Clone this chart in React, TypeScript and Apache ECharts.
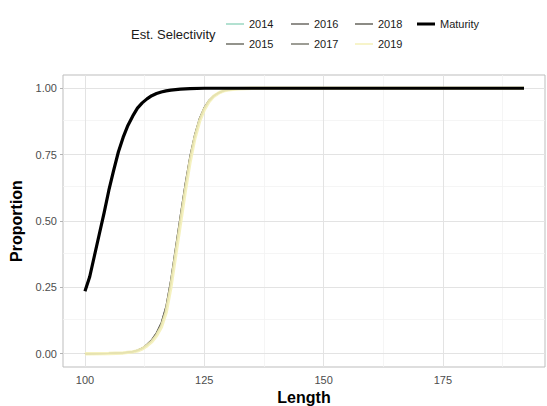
import React, { useEffect, useRef } from "react";
import * as echarts from "echarts";

// ---- data ----
const maturityLength = [100, 101, 102, 103, 104, 105, 106, 107, 108, 109, 110, 111, 112, 113, 114, 115, 116, 117, 118, 119, 120, 122, 125, 140, 192];
const maturityProp = [0.235, 0.29, 0.37, 0.45, 0.53, 0.615, 0.69, 0.76, 0.815, 0.86, 0.895, 0.925, 0.945, 0.96, 0.972, 0.98, 0.986, 0.99, 0.993, 0.995, 0.997, 0.999, 1.0, 1.0, 1.0];

const selLength = [100, 105, 108, 110, 111, 112, 113, 114, 115, 116, 117, 118, 119, 120, 121, 122, 123, 124, 125, 126, 127, 128, 129, 130, 132, 135, 140, 192];
const sel2014 = [0, 0.001, 0.003, 0.007, 0.012, 0.019, 0.032, 0.048, 0.072, 0.106, 0.165, 0.262, 0.385, 0.505, 0.625, 0.73, 0.815, 0.88, 0.922, 0.951, 0.97, 0.982, 0.99, 0.994, 0.998, 1, 1, 1];
const sel2015 = [0, 0.001, 0.003, 0.008, 0.013, 0.02, 0.034, 0.05, 0.076, 0.112, 0.172, 0.27, 0.392, 0.512, 0.632, 0.737, 0.82, 0.883, 0.925, 0.953, 0.971, 0.983, 0.99, 0.994, 0.998, 1, 1, 1];
const sel2016 = [0, 0.001, 0.003, 0.008, 0.013, 0.021, 0.035, 0.052, 0.079, 0.116, 0.178, 0.278, 0.4, 0.52, 0.638, 0.742, 0.824, 0.886, 0.927, 0.954, 0.972, 0.983, 0.99, 0.995, 0.998, 1, 1, 1];
const sel2017 = [0, 0.001, 0.003, 0.007, 0.012, 0.02, 0.033, 0.05, 0.075, 0.11, 0.17, 0.268, 0.39, 0.51, 0.63, 0.735, 0.818, 0.882, 0.924, 0.952, 0.971, 0.982, 0.99, 0.994, 0.998, 1, 1, 1];
const sel2018 = [0, 0.001, 0.003, 0.008, 0.014, 0.021, 0.036, 0.053, 0.08, 0.118, 0.18, 0.28, 0.402, 0.522, 0.64, 0.744, 0.826, 0.887, 0.928, 0.955, 0.972, 0.983, 0.991, 0.995, 0.998, 1, 1, 1];
const sel2019 = [0, 0.001, 0.003, 0.007, 0.011, 0.018, 0.03, 0.045, 0.068, 0.1, 0.155, 0.25, 0.37, 0.49, 0.61, 0.72, 0.81, 0.875, 0.92, 0.95, 0.97, 0.982, 0.99, 0.994, 0.998, 1, 1, 1];

const years = ["2014", "2015", "2016", "2017", "2018", "2019"];
const selValues = [sel2014, sel2015, sel2016, sel2017, sel2018, sel2019];

const xTicks = [100, 125, 150, 175];
const xMinor = [112.5, 137.5, 162.5, 187.5];
const yTicks = [0, 0.25, 0.5, 0.75, 1.0];
const yMinor = [0.125, 0.375, 0.625, 0.875];

// ---- styles ----
const yearColors = ["#9ad7c2", "#6f6f66", "#6c6a64", "#7d7c72", "#66655d", "#f4f0b8"];
const yearWidths = [1.3, 1.3, 1.3, 1.3, 1.3, 3.4];
const FONT = '"Liberation Sans", Arial, sans-serif';

export default function App() {
  const ref = useRef<HTMLDivElement>(null);
  useEffect(() => {
    if (!ref.current) return;
    const chart = echarts.init(ref.current, null, { renderer: "svg" });

    const selSeries = years.map((y, i) => ({
      name: y,
      type: "line",
      data: selLength.map((l, j) => [l, selValues[i][j]]),
      symbol: "none",
      smooth: false,
      z: 3 + i,
      lineStyle: { color: yearColors[i], width: yearWidths[i], opacity: i === 5 ? 0.9 : 1, join: "round" },
      itemStyle: { color: yearColors[i] },
    }));

    const gridLines = {
      name: "grid",
      type: "line",
      data: [],
      z: 1,
      silent: true,
      markLine: {
        silent: true,
        symbol: ["none", "none"],
        label: { show: false },
        animation: false,
        data: [
          ...xMinor.map((v) => ({ xAxis: v, lineStyle: { color: "#f2f2f2", width: 0.8, type: "solid" } })),
          ...yMinor.map((v) => ({ yAxis: v, lineStyle: { color: "#f2f2f2", width: 0.8, type: "solid" } })),
          ...xTicks.map((v) => ({ xAxis: v, lineStyle: { color: "#e3e3e3", width: 1, type: "solid" } })),
          ...yTicks.map((v) => ({ yAxis: v, lineStyle: { color: "#e3e3e3", width: 1, type: "solid" } })),
        ],
      },
    };

    const legendPos: Record<string, [number, number, number]> = {
      "2014": [226, 24, 1.5],
      "2015": [226, 44, 1.5],
      "2016": [291, 24, 1.5],
      "2017": [291, 44, 1.5],
      "2018": [355, 24, 1.5],
      "2019": [355, 44, 1.5],
      Maturity: [417, 24, 3],
    };

    const legends = Object.keys(legendPos).map((k) => ({
      data: [{ name: k, icon: "rect" }],
      left: legendPos[k][0],
      top: legendPos[k][1] - 7,
      padding: 0,
      itemWidth: 18,
      itemHeight: legendPos[k][2],
      selectedMode: false,
      textStyle: { fontFamily: FONT, fontSize: 11, color: "#1a1a1a", lineHeight: 14 },
    }));

    chart.setOption({
      animation: false,
      backgroundColor: "#ffffff",
      textStyle: { fontFamily: FONT },
      legend: legends,
      graphic: [
        {
          type: "text",
          left: 131,
          top: 28,
          style: { text: "Est. Selectivity", font: `13px ${FONT}`, fill: "#1a1a1a" },
        },
      ],
      grid: {
        left: 63,
        right: 2,
        top: 75,
        bottom: 39,
        show: true,
        borderColor: "#bdbdbd",
        borderWidth: 1,
        backgroundColor: "#ffffff",
        containLabel: false,
        outerBoundsMode: "none",
      },
      xAxis: {
        type: "value",
        min: 95.4,
        max: 196.4,
        name: "Length",
        nameLocation: "middle",
        nameGap: 22,
        nameTextStyle: { fontFamily: FONT, fontSize: 16, fontWeight: "bold", color: "#000" },
        axisLine: { show: false },
        axisTick: { show: true, length: 3, lineStyle: { color: "#b3b3b3" }, customValues: xTicks },
        axisLabel: { customValues: xTicks, margin: 7, fontSize: 11, color: "#4d4d4d", fontFamily: FONT },
        splitLine: { show: false },
      },
      yAxis: {
        type: "value",
        min: -0.05,
        max: 1.05,
        name: "Proportion",
        nameLocation: "middle",
        nameGap: 38,
        nameRotate: 90,
        nameTextStyle: { fontFamily: FONT, fontSize: 16, fontWeight: "bold", color: "#000" },
        axisLine: { show: false },
        axisTick: { show: true, length: 3, lineStyle: { color: "#b3b3b3" }, customValues: yTicks },
        axisLabel: {
          customValues: yTicks,
          margin: 6,
          fontSize: 11,
          color: "#4d4d4d",
          fontFamily: FONT,
          formatter: (v: number) => v.toFixed(2),
        },
        splitLine: { show: false },
      },
      series: [
        gridLines,
        ...selSeries,
        {
          name: "Maturity",
          type: "line",
          data: maturityLength.map((l, j) => [l, maturityProp[j]]),
          symbol: "none",
          smooth: false,
          z: 10,
          lineStyle: { color: "#000000", width: 3.2, join: "round" },
          itemStyle: { color: "#000000" },
        },
      ],
    });
    return () => chart.dispose();
  }, []);
  return <div ref={ref} style={{ width: 547, height: 406, position: "absolute", left: 0, top: 0 }} />;
}
